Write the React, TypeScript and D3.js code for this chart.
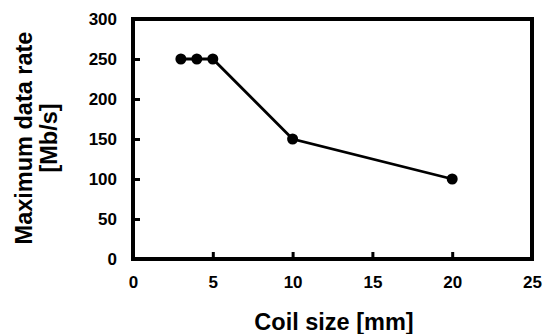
import { useEffect, useRef } from "react";
import * as d3 from "d3";

// data
const coilSize = [3, 4, 5, 10, 20];
const dataRate = [250, 250, 250, 150, 100];
const xTicks = [0, 5, 10, 15, 20, 25];
const yTicks = [0, 50, 100, 150, 200, 250, 300];

const W = 543;
const H = 334;

export default function App() {
  const svgRef = useRef<SVGSVGElement | null>(null);

  useEffect(() => {
    const svg = d3.select(svgRef.current);
    svg.selectAll("*").remove();

    const margin = { top: 19, right: 11, bottom: 75, left: 133 };
    const innerW = W - margin.left - margin.right;
    const innerH = H - margin.top - margin.bottom;

    const x = d3.scaleLinear().domain([0, 25]).range([0, innerW]);
    const y = d3.scaleLinear().domain([0, 300]).range([innerH, 0]);

    const g = svg
      .append("g")
      .attr("transform", `translate(${margin.left},${margin.top})`);

    const font = "'Liberation Sans', Arial, sans-serif";

    // frame
    g.append("rect")
      .attr("x", 0)
      .attr("y", 0)
      .attr("width", innerW)
      .attr("height", innerH)
      .attr("fill", "none")
      .attr("stroke", "#000")
      .attr("stroke-width", 4);

    // inward ticks
    const xAxis = d3.axisBottom(x).tickValues(xTicks).tickSizeInner(-7).tickSizeOuter(0).tickPadding(17);
    const xg = g.append("g").attr("transform", `translate(0,${innerH})`).call(xAxis);
    xg.select(".domain").remove();
    xg.selectAll("line").attr("stroke", "#000").attr("stroke-width", 3);
    xg.selectAll("text")
      .attr("font-family", font)
      .attr("font-weight", "bold")
      .attr("font-size", 17)
      .attr("fill", "#000");

    const yAxis = d3.axisLeft(y).tickValues(yTicks).tickSizeInner(-7).tickSizeOuter(0).tickPadding(16);
    const yg = g.append("g").call(yAxis);
    yg.select(".domain").remove();
    yg.selectAll("line").attr("stroke", "#000").attr("stroke-width", 3);
    yg.selectAll("text")
      .attr("font-family", font)
      .attr("font-weight", "bold")
      .attr("font-size", 17)
      .attr("fill", "#000");

    const pts = coilSize.map((c, i) => [c, dataRate[i]] as [number, number]);

    const line = d3
      .line<[number, number]>()
      .x((d) => x(d[0]))
      .y((d) => y(d[1]));

    g.append("path")
      .datum(pts)
      .attr("d", line)
      .attr("fill", "none")
      .attr("stroke", "#000")
      .attr("stroke-width", 2.8);

    g.selectAll("circle")
      .data(pts)
      .enter()
      .append("circle")
      .attr("cx", (d) => x(d[0]))
      .attr("cy", (d) => y(d[1]))
      .attr("r", 5.5)
      .attr("fill", "#000");

    // axis titles
    svg
      .append("text")
      .attr("x", 334)
      .attr("y", 330)
      .attr("text-anchor", "middle")
      .attr("font-family", font)
      .attr("font-weight", "bold")
      .attr("font-size", 23.5)
      .text("Coil size [mm]");

    const yt = svg
      .append("text")
      .attr("transform", `translate(0,138) rotate(-90)`)
      .attr("text-anchor", "middle")
      .attr("font-family", font)
      .attr("font-weight", "bold")
      .attr("font-size", 23.5);
    yt.append("tspan").attr("x", 0).attr("y", 32).text("Maximum data rate");
    yt.append("tspan").attr("x", 0).attr("y", 57).text("[Mb/s]");
  }, []);

  return (
    <svg
      ref={svgRef}
      width={W}
      height={H}
      style={{ position: "absolute", left: 0, top: 0, background: "#fff" }}
    />
  );
}
